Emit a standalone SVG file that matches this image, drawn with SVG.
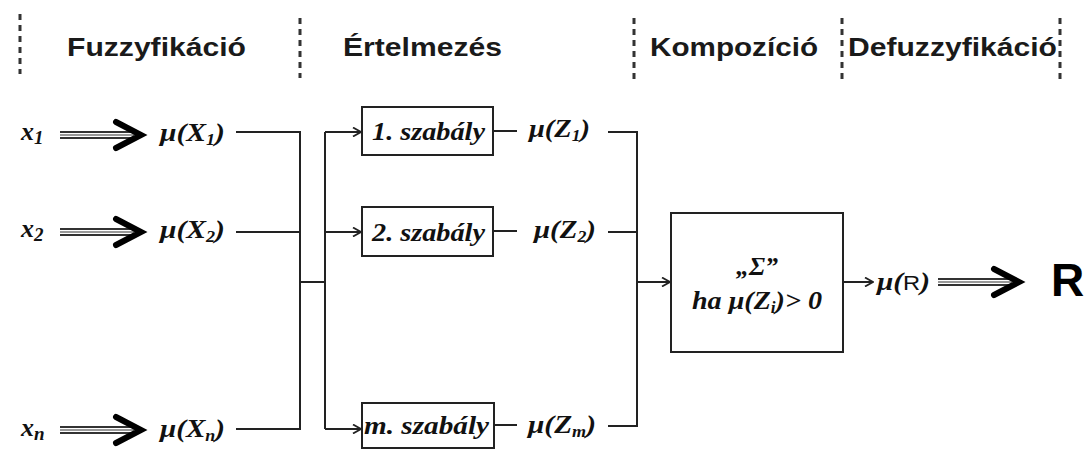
<svg xmlns="http://www.w3.org/2000/svg" width="1091" height="451" viewBox="0 0 1091 451">
  <style>
    .phase { font-family: "Liberation Sans", Arial, sans-serif; font-size: 25px; font-weight: bold; fill: #1a1a1a; }
    .sep { stroke: #333; stroke-width: 3; stroke-dasharray: 6 5; }
    .math { font-family: "Liberation Serif", "Times New Roman", serif; font-style: italic; font-weight: bold; font-size: 26px; fill: #111; }
    .rule { font-family: "Liberation Serif", "Times New Roman", serif; font-style: italic; font-weight: bold; font-size: 26px; fill: #111; }
    .box { fill: #fff; stroke: #222; stroke-width: 2; }
    .wire { fill: none; stroke: #222; stroke-width: 2; }
    .shaft { stroke: #333; stroke-width: 2; }
    .shaft-mid { stroke: #999; stroke-width: 2; }
    .head { fill: none; stroke: #000; stroke-width: 6; stroke-linejoin: miter; stroke-linecap: round; }
    .big { font-family: "Liberation Sans", Arial, sans-serif; font-weight: bold; font-size: 46px; fill: #000; }
  </style>
  <defs>
    <marker id="open" viewBox="0 0 10 10" refX="9" refY="5" markerWidth="10" markerHeight="10" markerUnits="userSpaceOnUse" orient="auto">
      <path d="M1,0.5 L9,5 L1,9.5" fill="none" stroke="#222" stroke-width="1.8"/>
    </marker>
    <!-- thick double-line arrow, drawn pointing right from (0,0) -->
    <g id="dbl">
      <line class="shaft" x1="0" y1="-3" x2="74" y2="-3"/>
      <line class="shaft-mid" x1="0" y1="0" x2="74" y2="0"/>
      <line class="shaft" x1="0" y1="3" x2="74" y2="3"/>
      <path class="head" d="M56,-13 L81,0 L56,13"/>
    </g>
  </defs>

  <rect width="1091" height="451" fill="#fff"/>

  <!-- phase separators and headings -->
  <g id="phases">
    <line class="sep" x1="20" y1="14" x2="20" y2="74"/>
    <line class="sep" x1="300" y1="18" x2="300" y2="78"/>
    <line class="sep" x1="634" y1="18" x2="634" y2="80"/>
    <line class="sep" x1="842" y1="18" x2="842" y2="80"/>
    <line class="sep" x1="1060" y1="18" x2="1060" y2="80"/>
    <text class="phase" x="67" y="56" textLength="179" lengthAdjust="spacingAndGlyphs">Fuzzyfikáció</text>
    <text class="phase" x="343" y="56" textLength="159" lengthAdjust="spacingAndGlyphs">Értelmezés</text>
    <text class="phase" x="650" y="56" textLength="168" lengthAdjust="spacingAndGlyphs">Kompozíció</text>
    <text class="phase" x="848" y="56" textLength="209" lengthAdjust="spacingAndGlyphs">Defuzzyfikáció</text>
  </g>

  <!-- connectors -->
  <g id="connectors">
    <!-- fuzzified inputs merge into one bus -->
    <path class="wire" d="M236,132 H300 V429 H236"/>
    <path class="wire" d="M236,232 H300"/>
    <path class="wire" d="M300,282 H325"/>
    <path class="wire" d="M325,132 V429"/>
    <line class="wire" x1="325" y1="132" x2="361" y2="132" marker-end="url(#open)"/>
    <line class="wire" x1="325" y1="232" x2="361" y2="232" marker-end="url(#open)"/>
    <line class="wire" x1="325" y1="429" x2="361" y2="429" marker-end="url(#open)"/>
    <!-- rule outputs -->
    <line class="wire" x1="493" y1="131" x2="517" y2="131"/>
    <line class="wire" x1="493" y1="231" x2="517" y2="231"/>
    <line class="wire" x1="494" y1="425" x2="517" y2="425"/>
    <path class="wire" d="M608,132 H637 V426 H608"/>
    <path class="wire" d="M608,232 H637"/>
    <line class="wire" x1="637" y1="282" x2="670" y2="282" marker-end="url(#open)"/>
    <line class="wire" x1="843" y1="282" x2="873" y2="282" marker-end="url(#open)"/>
    <!-- crisp conversions -->
    <use href="#dbl" x="60" y="135"/>
    <use href="#dbl" x="60" y="232"/>
    <use href="#dbl" x="60" y="430"/>
    <use href="#dbl" x="938" y="282"/>
  </g>

  <!-- inputs -->
  <g id="input-1">
    <text class="math" x="21" y="140" font-size="33">x<tspan font-size="19" dy="4">1</tspan></text>
    <text class="math" x="160" y="141" textLength="65" lengthAdjust="spacingAndGlyphs">μ(X<tspan font-size="16" dy="4">1</tspan><tspan dy="-4">)</tspan></text>
  </g>
  <g id="input-2">
    <text class="math" x="21" y="237" font-size="33">x<tspan font-size="19" dy="4">2</tspan></text>
    <text class="math" x="160" y="238" textLength="65" lengthAdjust="spacingAndGlyphs">μ(X<tspan font-size="16" dy="4">2</tspan><tspan dy="-4">)</tspan></text>
  </g>
  <g id="input-n">
    <text class="math" x="21" y="436" font-size="33">x<tspan font-size="19" dy="4">n</tspan></text>
    <text class="math" x="160" y="437" textLength="65" lengthAdjust="spacingAndGlyphs">μ(X<tspan font-size="16" dy="4">n</tspan><tspan dy="-4">)</tspan></text>
  </g>

  <!-- rules -->
  <g id="rule-1">
    <rect class="box" x="362" y="107" width="131" height="48"/>
    <text class="rule" x="372" y="140" textLength="113" lengthAdjust="spacingAndGlyphs">1. szabály</text>
  </g>
  <g id="rule-2">
    <rect class="box" x="362" y="207" width="131" height="49"/>
    <text class="rule" x="372" y="241" textLength="113" lengthAdjust="spacingAndGlyphs">2. szabály</text>
  </g>
  <g id="rule-m">
    <rect class="box" x="362" y="403" width="132" height="45"/>
    <text class="rule" x="364" y="434" textLength="125" lengthAdjust="spacingAndGlyphs">m. szabály</text>
  </g>

  <!-- rule outputs -->
  <g id="out-1">
    <text class="math" x="529" y="137" textLength="61" lengthAdjust="spacingAndGlyphs">μ(Z<tspan font-size="16" dy="4">1</tspan><tspan dy="-4">)</tspan></text>
  </g>
  <g id="out-2">
    <text class="math" x="534" y="238" textLength="62" lengthAdjust="spacingAndGlyphs">μ(Z<tspan font-size="16" dy="4">2</tspan><tspan dy="-4">)</tspan></text>
  </g>
  <g id="out-m">
    <text class="math" x="528" y="433" textLength="68" lengthAdjust="spacingAndGlyphs">μ(Z<tspan font-size="16" dy="4">m</tspan><tspan dy="-4">)</tspan></text>
  </g>

  <!-- composition -->
  <g id="composition">
    <rect class="box" x="671" y="213" width="172" height="139"/>
    <text class="math" x="757" y="275" text-anchor="middle" font-size="34">„Σ”</text>
    <text class="math" x="692" y="309" textLength="130" lengthAdjust="spacingAndGlyphs">ha μ(Z<tspan font-size="16" dy="4">i</tspan><tspan dy="-4">)&gt; 0</tspan></text>
  </g>

  <!-- defuzzified output -->
  <g id="membership-r">
    <text class="math" x="877" y="290" textLength="53" lengthAdjust="spacingAndGlyphs">μ(<tspan font-family="Liberation Sans, Arial, sans-serif" font-style="normal" font-weight="normal" font-size="21">R</tspan>)</text>
  </g>
  <g id="result">
    <text class="big" x="1051" y="296">R</text>
  </g>
</svg>
